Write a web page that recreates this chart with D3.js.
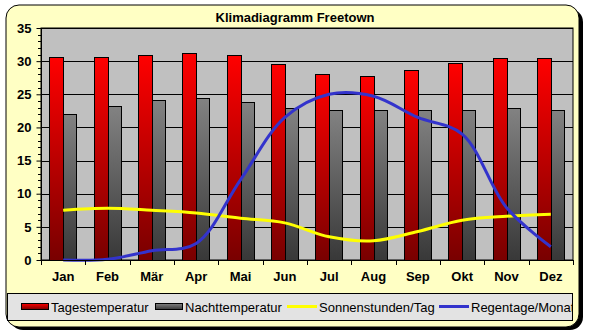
<!DOCTYPE html>
<html><head><meta charset="utf-8">
<script src="https://cdn.jsdelivr.net/npm/d3@7"></script>
<style>html,body{margin:0;padding:0;background:#fff;}svg{display:block;font-family:"Liberation Sans",Arial,sans-serif;}</style>
</head><body><svg id="c" width="589" height="336"></svg>
<script>
const months = ["Jan","Feb","Mär","Apr","Mai","Jun","Jul","Aug","Sep","Okt","Nov","Dez"];
const tagTemp = [30.7,30.6,30.9,31.3,30.9,29.5,28.0,27.7,28.6,29.7,30.4,30.4];
const nachtTemp = [22.1,23.2,24.1,24.5,23.8,22.9,22.7,22.7,22.7,22.6,23.0,22.6];
const sonne = [7.5,7.8,7.5,7.1,6.3,5.6,3.5,2.9,4.3,6.0,6.6,6.9];
const regen = [0,0.1,1.4,2.5,12.1,21.5,25.0,24.7,21.5,19.0,7.9,2.0];
const yTicks = [0,5,10,15,20,25,30,35];
const seriesNames = ["Tagestemperatur","Nachttemperatur","Sonnenstunden/Tag","Regentage/Monat"];
const title = "Klimadiagramm Freetown";

const svg = d3.select("#c");
const defs = svg.append("defs");
const gR = defs.append("linearGradient").attr("id","gRed").attr("x1",0).attr("y1",0).attr("x2",0).attr("y2",1);
gR.append("stop").attr("offset","0%").attr("stop-color","#ff0000");
gR.append("stop").attr("offset","100%").attr("stop-color","#780000");
const gG = defs.append("linearGradient").attr("id","gGrey").attr("x1",0).attr("y1",0).attr("x2",0).attr("y2",1);
gG.append("stop").attr("offset","0%").attr("stop-color","#828282");
gG.append("stop").attr("offset","100%").attr("stop-color","#383838");
defs.append("clipPath").attr("id","legClip").append("rect").attr("x",8).attr("y",294).attr("width",564).attr("height",26);

// frame with shadow
svg.append("rect").attr("x",10).attr("y",9).attr("width",573).attr("height",321).attr("rx",13).attr("fill","#000");
svg.append("rect").attr("x",6).attr("y",5).attr("width",573).attr("height",322).attr("rx",13)
  .attr("fill","#ffffc4").attr("stroke","#000").attr("stroke-width",1);

const L=41, R=573, T=28, B=260;
const x = d3.scaleBand().domain(months).range([L,R]).padding(0);
const y = d3.scaleLinear().domain([0,35]).range([B,T]);

svg.append("rect").attr("x",L).attr("y",T).attr("width",R-L).attr("height",B-T).attr("fill","#c0c0c0").attr("stroke","#000");
svg.append("g").selectAll("line").data(yTicks.slice(1)).join("line")
  .attr("x1",L).attr("x2",R).attr("y1",d=>Math.round(y(d))+0.5).attr("y2",d=>Math.round(y(d))+0.5).attr("stroke","#000");

const bw = 14;
const off = (x.bandwidth()-2*bw)/2;
svg.append("g").selectAll("rect").data(tagTemp).join("rect")
  .attr("x",(d,i)=>Math.round(x(months[i])+off)+0.5).attr("y",d=>Math.round(y(d))+0.5)
  .attr("width",bw).attr("height",d=>Math.round(B-y(d))).attr("fill","url(#gRed)").attr("stroke","#000");
svg.append("g").selectAll("rect").data(nachtTemp).join("rect")
  .attr("x",(d,i)=>Math.round(x(months[i])+off)+bw+0.5).attr("y",d=>Math.round(y(d))+0.5)
  .attr("width",bw-1).attr("height",d=>Math.round(B-y(d))).attr("fill","url(#gGrey)").attr("stroke","#000");

const cx = (i)=>x(months[i])+x.bandwidth()/2;
const line = d3.line().x((d,i)=>cx(i)).y(d=>y(d)).curve(d3.curveCatmullRom.alpha(0.5));
svg.append("path").datum(sonne).attr("d",line).attr("fill","none").attr("stroke","#ffff00").attr("stroke-width",3);
svg.append("path").datum(regen).attr("d",line).attr("fill","none").attr("stroke","#3333cc").attr("stroke-width",3);

// axes
const ya = d3.axisLeft(y).tickValues(yTicks).tickSize(5).tickFormat(d3.format("d"));
const yg = svg.append("g").attr("transform",`translate(${L+0.5},0)`).call(ya);
yg.select(".domain").remove();
yg.selectAll(".tick line").attr("stroke","#000");
yg.selectAll(".tick text").attr("x",-10).attr("font-size",13).attr("font-weight","bold").attr("fill","#000").attr("font-family","Liberation Sans, Arial, sans-serif");
const minor = d3.range(0,36).filter(v=>v%5!==0);
svg.append("g").selectAll("line").data(minor).join("line")
  .attr("x1",L-3).attr("x2",L).attr("y1",d=>Math.round(y(d))+0.5).attr("y2",d=>Math.round(y(d))+0.5).attr("stroke","#000");
svg.append("line").attr("x1",L+0.5).attr("x2",L+0.5).attr("y1",T).attr("y2",B).attr("stroke","#000");

const xa = d3.axisBottom(x).tickSize(0).tickPadding(12);
const xg = svg.append("g").attr("transform",`translate(0,${B})`).call(xa);
xg.select(".domain").remove();
xg.selectAll(".tick text").attr("font-size",13).attr("font-weight","bold").attr("fill","#000").attr("font-family","Liberation Sans, Arial, sans-serif");
svg.append("g").selectAll("line").data(d3.range(0,13)).join("line")
  .attr("x1",i=>Math.round(L+i*x.bandwidth())+0.5).attr("x2",i=>Math.round(L+i*x.bandwidth())+0.5)
  .attr("y1",B).attr("y2",B+5).attr("stroke","#000");
svg.append("line").attr("x1",L).attr("x2",R).attr("y1",B+0.5).attr("y2",B+0.5).attr("stroke","#000");

// title
svg.append("text").attr("x",295).attr("y",22).attr("text-anchor","middle").attr("font-size",13).attr("font-weight","bold").text(title);

// legend
const lg = svg.append("g");
lg.append("rect").attr("x",7.5).attr("y",293.5).attr("width",565).attr("height",27).attr("fill","#e3e3e3").attr("stroke","#000");
const lgi = lg.append("g").attr("clip-path","url(#legClip)");
const items = [
  {t:"bar",f:"url(#gRed)",x0:21,tx:51},
  {t:"bar",f:"url(#gGrey)",x0:155,tx:185},
  {t:"line",c:"#ffff00",x0:287,tx:319},
  {t:"line",c:"#3333cc",x0:439,tx:471}
];
items.forEach((it,i)=>{
  if(it.t==="bar") lgi.append("rect").attr("x",it.x0+0.5).attr("y",303.5).attr("width",27).attr("height",6).attr("fill",it.f).attr("stroke","#000");
  else lgi.append("line").attr("x1",it.x0).attr("x2",it.x0+30).attr("y1",306.5).attr("y2",306.5).attr("stroke",it.c).attr("stroke-width",3);
  lgi.append("text").attr("x",it.tx).attr("y",312).attr("font-size",13).attr("fill","#000").text(seriesNames[i]);
});
</script></body></html>
